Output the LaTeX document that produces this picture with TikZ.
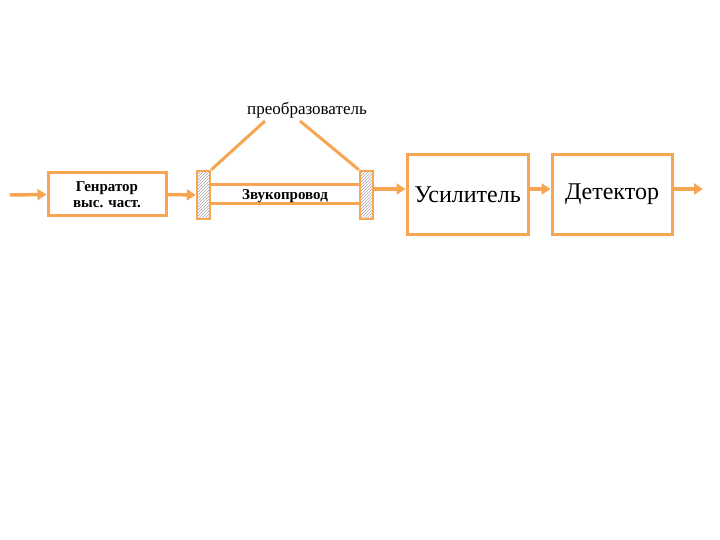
\documentclass[tikz,border=0pt]{standalone}
\usepackage{fontspec}
\setmainfont{Liberation Serif}
\usetikzlibrary{patterns,arrows.meta}
\definecolor{org}{RGB}{246,166,82}
\begin{document}
\begin{tikzpicture}[x=1pt,y=-1pt,
  blk/.style={draw=org,line width=3pt,fill=white,inner sep=0},
  arr/.style={draw=org,line width=3.5pt,-{Triangle[length=9pt,width=11pt]}},
  tr/.style={draw=org,line width=2.5pt,pattern=north east lines,pattern color=gray!70}]
\useasboundingbox (0,0) rectangle (720,540);
\node[blk,minimum width=118pt,minimum height=43pt,font=\bfseries\fontsize{15}{16}\selectfont,align=center] (gen) at (107,194.5) {Генратор\\выс. част.};
\node[tr,minimum width=13pt,minimum height=48pt,inner sep=0] (t1) at (203.5,195) {};
\node[tr,minimum width=13pt,minimum height=48pt,inner sep=0] (t2) at (366.5,195) {};
\draw[org,line width=3pt] (t1.east |- 0,185) -- (t2.west |- 0,185);
\draw[org,line width=3pt] (t1.east |- 0,204) -- (t2.west |- 0,204);
\node[font=\bfseries\fontsize{15}{16}\selectfont] (wg) at (285,196) {Звукопровод};
\node[blk,minimum width=121pt,minimum height=79pt,font=\fontsize{24}{26}\selectfont] (amp) at (467.5,194.5) {Усилитель};
\node[blk,minimum width=120pt,minimum height=79pt,font=\fontsize{24}{26}\selectfont] (det) at (612,194.5) {Детектор};
\node[font=\fontsize{17}{19}\selectfont] (lab) at (307,110) {преобразователь};
\coordinate (in) at (10,195);
\coordinate (out) at (703,189);
\draw[arr] (in) -- (gen.west);
\draw[arr] (gen.east) -- (t1.west);
\draw[arr] (t2.east |- 0,189) -- (amp.west |- 0,189);
\draw[arr] (amp.east |- 0,189) -- (det.west |- 0,189);
\draw[arr] (det.east |- 0,189) -- (out);
\draw[org,line width=3pt] (t1.north east) -- (265,121);
\draw[org,line width=3pt] (t2.north west) -- (300,121);
\end{tikzpicture}
\end{document}
